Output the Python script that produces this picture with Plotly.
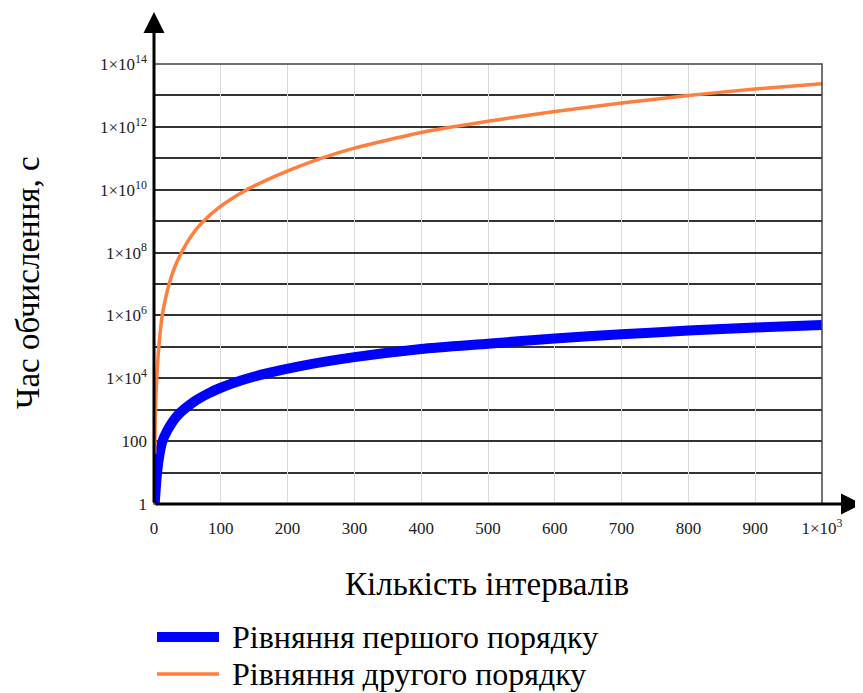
import plotly.graph_objects as go

# ---- data ----
n_first = [1, 3, 5, 8, 12, 20, 35, 60, 80, 100, 130, 170, 217, 300, 400, 500, 600, 700, 800, 900, 1000]
t_first = [1, 4, 12, 35, 90, 220, 650, 1800, 3200, 5000, 8500, 1.45e4, 2.4e4, 4.7e4, 8.6e4, 1.26e5,
           1.85e5, 2.5e5, 3.3e5, 4.1e5, 5.0e5]

n_second = [1, 2, 3, 4, 5, 7, 10, 12, 16, 22, 30, 40, 55, 72, 100, 137, 170, 204, 250, 300, 400, 500,
            600, 700, 800, 900, 1000]
t_second = [40, 600, 3000, 9000, 2.2e4, 9e4, 4e5, 9e5, 2.6e6, 9e6, 3e7, 9e7, 3.2e8, 9e8, 3e9, 9.5e9,
            2.1e10, 4.3e10, 1.0e11, 2.1e11, 6.6e11, 1.5e12, 3.1e12, 5.7e12, 1.0e13, 1.6e13, 2.35e13]

x_ticks = [0, 100, 200, 300, 400, 500, 600, 700, 800, 900, 1000]
x_ticktext = ["0", "100", "200", "300", "400", "500", "600", "700", "800", "900", "1×10<sup>3</sup>"]

y_major_exp = [0, 2, 4, 6, 8, 10, 12, 14]
y_minor_exp = [1, 3, 5, 7, 9, 11, 13]
y_ticktext = ["1", "100", "1×10<sup>4</sup>", "1×10<sup>6</sup>", "1×10<sup>8</sup>",
              "1×10<sup>10</sup>", "1×10<sup>12</sup>", "1×10<sup>14</sup>"]

series_names = ["Рівняння першого порядку", "Рівняння другого порядку"]
x_title = "Кількість інтервалів"
y_title = "Час обчислення, с"

BLUE = "#0000FF"
ORANGE = "#FF7F40"
FONT = "Liberation Serif"
GRID = "#333333"

W, H = 863, 693
OFF = 8  # page body margin shifts the figure by 8px
# plot area in reference (screen) pixels
PL, PR, PT, PB = 154, 822, 64, 504
PW, PH = PR - PL, PB - PT
L, T = PL - OFF, PT - OFF
R, B = W - (PR - OFF), H - (PB - OFF)


def px2paper(px, py):
    return (px - PL) / PW, (PB - py) / PH


fig = go.Figure()
fig.add_trace(go.Scatter(x=n_first, y=t_first, mode="lines", name=series_names[0],
                         line=dict(color=BLUE, width=10, shape="spline", smoothing=0.6)))
fig.add_trace(go.Scatter(x=n_second, y=t_second, mode="lines", name=series_names[1],
                         line=dict(color=ORANGE, width=3.5, shape="spline", smoothing=0.6)))

annotations = []
shapes = []

# plot border (top and right thin)
shapes.append(dict(type="rect", xref="paper", yref="paper", x0=0, y0=0, x1=1, y1=1,
                   line=dict(color="#444444", width=1.5), layer="above"))

# thick axes with arrows
tipx, tipy = px2paper(154, 12)
annotations.append(dict(xref="paper", yref="paper", x=0, y=tipy, ax=0, ay=(PB - 12),
                        showarrow=True, arrowhead=2,
                        arrowsize=1.4, arrowwidth=3, arrowcolor="black", text=""))
tipx2, _ = px2paper(862, PB)
annotations.append(dict(xref="paper", yref="paper", x=tipx2, y=0, ax=-(862 - PL), ay=0,
                        showarrow=True, arrowhead=2, arrowsize=1.4, arrowwidth=3,
                        arrowcolor="black", text=""))

# axis titles
tx, ty = px2paper(487, 584)
annotations.append(dict(xref="paper", yref="paper", x=tx, y=ty, text=x_title, showarrow=False,
                        font=dict(family=FONT, size=33, color="black"), xanchor="center", yanchor="middle"))
tx, ty = px2paper(28, 283)
annotations.append(dict(xref="paper", yref="paper", x=tx, y=ty, text=y_title, showarrow=False,
                        textangle=-90, font=dict(family=FONT, size=33, color="black"),
                        xanchor="center", yanchor="middle"))

# legend (drawn manually to match the long line samples)
leg = [(series_names[0], BLUE, 10, 157, 219, 637), (series_names[1], ORANGE, 3.5, 157, 219, 674)]
for name, col, w, x0p, x1p, yp in leg:
    a0, b0 = px2paper(x0p, yp)
    a1, _ = px2paper(x1p, yp)
    shapes.append(dict(type="line", xref="paper", yref="paper", x0=a0, y0=b0, x1=a1, y1=b0,
                       line=dict(color=col, width=w)))
    ax_, ay_ = px2paper(231, yp)
    annotations.append(dict(xref="paper", yref="paper", x=ax_, y=ay_, text=name, showarrow=False,
                            xanchor="left", yanchor="middle", borderpad=0,
                            font=dict(family=FONT, size=32, color="black")))

fig.update_layout(
    width=W, height=H,
    margin=dict(l=L, r=R, t=T, b=B, autoexpand=False),
    paper_bgcolor="white", plot_bgcolor="white",
    showlegend=False,
    font=dict(family=FONT, size=17, color="#222222"),
    xaxis=dict(range=[0, 1000], tickvals=x_ticks, ticktext=x_ticktext, showgrid=True,
               gridcolor="#d9d9d9", gridwidth=1, showline=False, zeroline=False, ticks="",
               ticklabelstandoff=12, tickfont=dict(family=FONT, size=17, color="#222222")),
    yaxis=dict(type="log", range=[0, 14], tickvals=[10 ** k for k in y_major_exp], ticktext=y_ticktext,
               showgrid=True, gridcolor=GRID, gridwidth=1.6, showline=False, zeroline=False,
               ticks="", ticklabelstandoff=6, tickfont=dict(family=FONT, size=17, color="#222222"),
               minor=dict(tickvals=[10 ** k for k in y_minor_exp], showgrid=True, gridcolor=GRID,
                          gridwidth=1.6, ticks="")),
    annotations=annotations,
    shapes=shapes,
)

fig.write_html("out.html")
